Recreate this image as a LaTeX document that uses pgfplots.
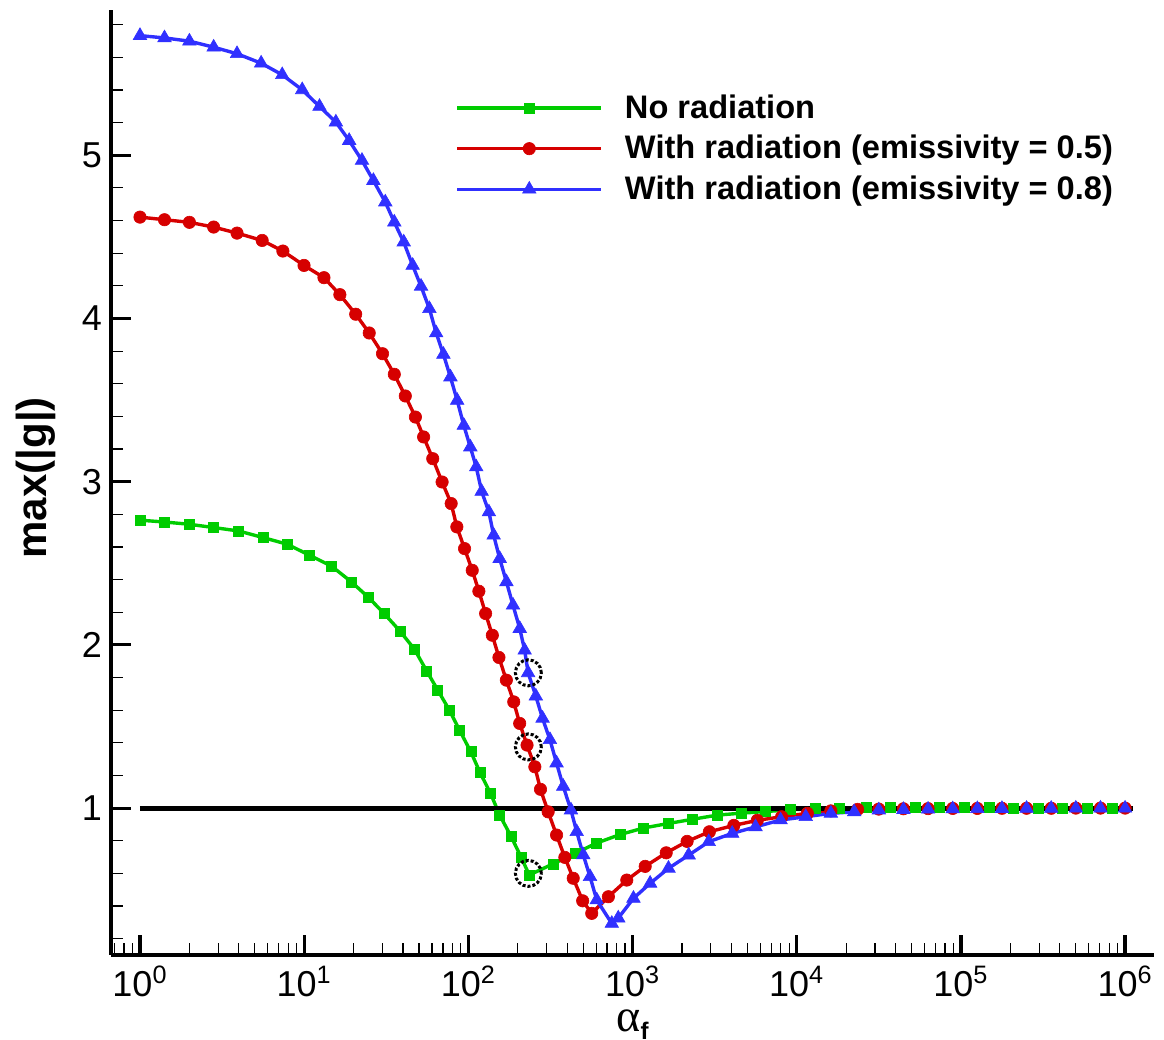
\documentclass[border=0pt]{standalone}
\usepackage{fontspec}
\setmainfont{Liberation Sans}
\newfontfamily\greekfont{Liberation Serif}
\usepackage{pgfplots}
\pgfplotsset{compat=1.18}

\definecolor{cgreen}{RGB}{0,204,0}
\definecolor{cred}{RGB}{214,0,0}
\definecolor{cblue}{RGB}{48,48,255}

\begin{document}
\begin{tikzpicture}
\begin{axis}[
    name=ax,
    scale only axis,
    width=521.5pt, height=472.5pt,
    xmode=log, log basis x=10,
    xmin=0.666, xmax=1.5e6, ymin=0.1, ymax=5.89,
    axis x line=bottom, axis y line=left,
    axis line style={-, line width=2pt},
    tick align=inside,
    xtick={1,10,100,1000,10000,100000,1000000},
    xticklabels={10\textsuperscript{0},10\textsuperscript{1},10\textsuperscript{2},10\textsuperscript{3},10\textsuperscript{4},10\textsuperscript{5},10\textsuperscript{6}},
    minor xtick={0.7,0.8,0.9,2,3,4,5,6,7,8,9,20,30,40,50,60,70,80,90,200,300,400,500,600,700,800,900,2000,3000,4000,5000,6000,7000,8000,9000,20000,30000,40000,50000,60000,70000,80000,90000,200000,300000,400000,500000,600000,700000,800000,900000},
    ytick={1,2,3,4,5},
    yticklabels={1,2,3,4,5},
    minor ytick={0.2,0.4,0.6,0.8,1.2,1.4,1.6,1.8,2.2,2.4,2.6,2.8,3.2,3.4,3.6,3.8,4.2,4.4,4.6,4.8,5.2,5.4,5.6,5.8},
    major tick length=10pt, minor tick length=6pt,
    every major tick/.append style={line width=1.6pt, black},
    every minor tick/.append style={line width=0.6pt, black},
    tick label style={font=\fontsize{18}{21}\selectfont},
    xticklabel style={inner ysep=0.5pt, yshift=-5pt},
    yticklabel style={xshift=-1pt},
    xlabel={{\fontsize{23}{25}\selectfont\greekfont α}\raisebox{-4pt}{\fontsize{12}{14}\selectfont\bfseries f}},
    xlabel style={at={(axis description cs:0.5,-0.058)}, anchor=north, inner sep=0pt},
    ylabel={\bfseries max(|g|)},
    ylabel style={font=\fontsize{21}{24}\selectfont, at={(axis description cs:-0.072,0.505)}, anchor=center},
    legend style={draw=none, fill=none, at={(axis description cs:0.33,0.915)}, anchor=north west,
        font=\bfseries\fontsize{16.3}{19}\selectfont, row sep=3pt, inner sep=0pt,
        /tikz/every odd column/.append style={column sep=9pt}},
    legend cell align=left,
    legend image code/.code={\draw[mark repeat=2, mark phase=2, #1] plot coordinates {(0pt,0pt) (36pt,0pt) (72pt,0pt)};},
]
\addplot[cgreen, line width=1.7pt, mark=square*, mark size=2.5pt, mark options={line width=0.3pt}] coordinates {
(1,2.764)(1.41,2.753)(2.0,2.739)(2.81,2.719)(3.99,2.698)(5.60,2.658)(7.88,2.617)(10.8,2.549)(14.7,2.482)(19.4,2.386)(24.7,2.290)(30.7,2.192)(38.4,2.084)(46.9,1.974)(55.7,1.841)(65.1,1.723)(76.7,1.600)(88.3,1.478)(103.5,1.345)(117.9,1.217)(136.8,1.088)(155.2,0.957)(182.0,0.827)(209.4,0.700)(235,0.590)(327.3,0.658)(447.7,0.723)(605.3,0.786)(839.5,0.838)(1167,0.878)(1657,0.906)(2303,0.931)(3275,0.957)(4613,0.969)(6457,0.979)(9190,0.990)(13060,0.997)(18160,1.0)(26420,1.002)(37154,1.002)(52481,1.002)(74131,1.002)(104713,1.002)(147911,1.002)(208930,1.001)(295121,1.001)(416869,1.001)(588844,1.001)(831764,1.001)
};
\addlegendentry{No radiation}
\addplot[cred, line width=1.7pt, mark=*, mark size=3.1pt, mark options={line width=0.3pt}] coordinates {
(1,4.621)(1.41,4.605)(2.0,4.589)(2.81,4.560)(3.90,4.523)(5.55,4.478)(7.42,4.413)(9.98,4.325)(13.2,4.250)(16.5,4.146)(20.6,4.026)(24.9,3.911)(30.0,3.784)(35.4,3.658)(41.3,3.525)(47.6,3.396)(53.4,3.274)(60.7,3.141)(69.2,2.998)(78.6,2.866)(85.1,2.723)(94.8,2.590)(105.6,2.457)(115.9,2.329)(127.4,2.192)(140.0,2.059)(153.6,1.923)(170.4,1.784)(189.0,1.651)(205.4,1.519)(227.8,1.386)(254.1,1.253)(275.0,1.115)(306.2,0.977)(344.6,0.835)(387.0,0.698)(435.3,0.570)(497.0,0.432)(564.3,0.355)(712.8,0.457)(922.6,0.559)(1194,0.643)(1604,0.726)(2149,0.796)(2938,0.855)(4140,0.894)(5754,0.925)(8091,0.947)(11610,0.968)(16140,0.983)(23490,0.992)(31623,0.994)(44668,0.996)(63096,0.997)(89125,0.998)(125893,0.998)(177828,0.999)(251189,0.999)(354813,0.999)(501187,1.0)(707946,1.0)(1000000,1.0)
};
\addlegendentry{With radiation (emissivity = 0.5)}
\addplot[cblue, line width=1.7pt, mark=triangle*, mark size=3.9pt, mark options={line width=0.3pt}] coordinates {
(1,5.733)(1.41,5.719)(2.0,5.699)(2.81,5.662)(3.90,5.622)(5.47,5.564)(7.35,5.493)(9.73,5.401)(12.4,5.299)(15.6,5.203)(18.8,5.090)(22.5,4.968)(26.4,4.845)(31.2,4.713)(35.4,4.590)(40.4,4.468)(45.8,4.325)(51.5,4.197)(57.9,4.060)(63.7,3.911)(70.5,3.780)(77.8,3.641)(85.5,3.498)(93.8,3.345)(102.8,3.212)(111.7,3.090)(120.5,2.940)(133.4,2.814)(142.6,2.672)(155.2,2.529)(170.6,2.386)(187.1,2.243)(205.6,2.100)(220.3,1.967)(231.2,1.829)(257.6,1.686)(283.1,1.550)(314.1,1.419)(344.4,1.276)(378.4,1.133)(421.7,0.988)(457.1,0.855)(501.2,0.713)(550.8,0.580)(605.4,0.437)(747.6,0.293)(818.5,0.326)(1013,0.447)(1280,0.539)(1656,0.631)(2197,0.712)(2911,0.794)(4046,0.845)(5611,0.885)(7980,0.927)(11350,0.947)(16140,0.968)(22390,0.977)(31623,0.988)(44668,0.991)(63096,0.993)(89125,0.995)(125893,0.996)(177828,0.997)(251189,0.998)(354813,0.998)(501187,0.999)(707946,0.999)(1000000,0.999)
};
\addlegendentry{With radiation (emissivity = 0.8)}
% reference line g = 1
\addplot[black, line width=2.6pt, forget plot] coordinates {(1,1)(1.12e6,1)};
% marked points
\addplot[only marks, mark=o, mark size=6.5pt, mark options={black, line width=1.5pt, densely dotted}, forget plot] coordinates {(232,1.829)(232,1.375)(232,0.600)};
\end{axis}
\path[use as bounding box] ([shift={(-55.5pt,-42pt)}]ax.south west) rectangle ([shift={(5pt,5pt)}]ax.north east);
\end{tikzpicture}
\end{document}
